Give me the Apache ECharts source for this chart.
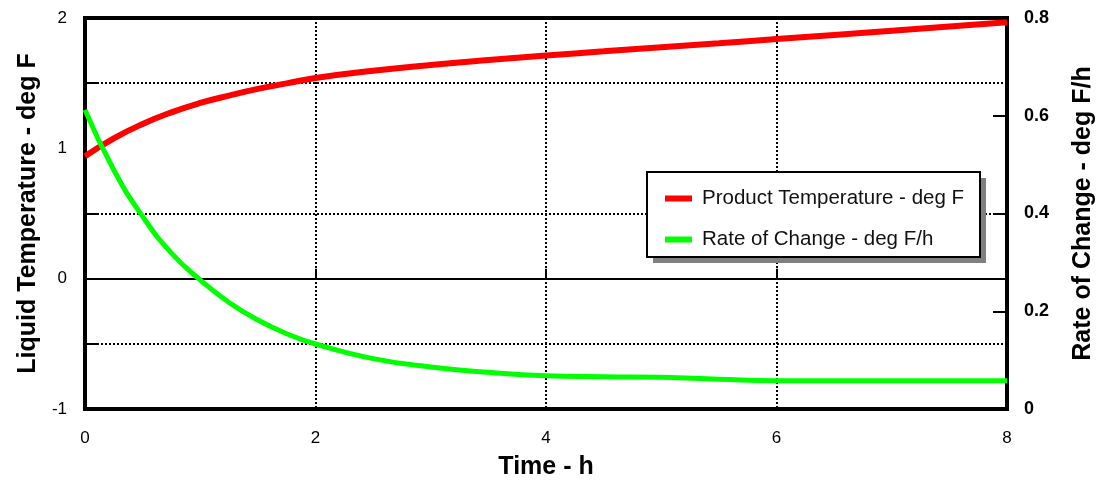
<!DOCTYPE html>
<html>
<head>
<meta charset="utf-8">
<script src="https://cdn.jsdelivr.net/npm/echarts@6/dist/echarts.min.js"></script>
<style>
html,body{margin:0;padding:0;background:#fff;}
#c{width:1103px;height:480px;}
</style>
</head>
<body>
<div id="c"></div>
<script>
// Time (h)
const timeH = [0, 0.25, 0.5, 0.75, 1, 1.25, 1.5, 1.75, 2, 2.5, 3, 3.5, 4, 4.5, 5, 5.5, 6, 7, 8];
// Product Temperature - deg F (left axis)
const productTemp = [0.94, 1.077, 1.187, 1.276, 1.348, 1.405, 1.456, 1.498, 1.54, 1.595, 1.64, 1.678, 1.712, 1.744, 1.776, 1.806, 1.838, 1.903, 1.968];
// Rate of Change - deg F/h (right axis)
const rateOfChange = [0.612, 0.489, 0.394, 0.319, 0.264, 0.218, 0.182, 0.154, 0.133, 0.103, 0.086, 0.075, 0.068, 0.066, 0.065, 0.061, 0.058, 0.058, 0.058];

const xTicks = [0, 2, 4, 6, 8];
const leftTicks = [-1, 0, 1, 2];
const rightTicks = [0, 0.2, 0.4, 0.6, 0.8];

const seriesNames = ['Product Temperature - deg F', 'Rate of Change - deg F/h'];

const FONT = 'Liberation Sans, Arial, sans-serif';
const dotted = { color: '#000', width: 2, type: [2, 2] };

const chart = echarts.init(document.getElementById('c'), null, { renderer: 'canvas' });
chart.setOption({
  animation: false,
  backgroundColor: '#fff',
  textStyle: { fontFamily: FONT },
  grid: {
    left: 85, right: 96, top: 18, bottom: 71,
    containLabel: false, outerBoundsMode: 'none',
    show: true, borderColor: '#000', borderWidth: 4, backgroundColor: 'transparent'
  },
  graphic: [
    { type: 'rect', z: 3, silent: true, shape: { x: 653, y: 178, width: 333, height: 85 },
      style: { fill: '#808080' } },
    { type: 'rect', z: 3, silent: true, shape: { x: 647, y: 172, width: 333, height: 85 },
      style: { fill: '#fff', stroke: '#000', lineWidth: 2 } }
  ],
  legend: {
    orient: 'vertical',
    left: 665, top: 188,
    data: seriesNames,
    backgroundColor: 'transparent',
    borderWidth: 0,
    padding: 0,
    itemGap: 20,
    itemWidth: 27, itemHeight: 6,
    icon: 'rect',
    z: 10,
    textStyle: { fontFamily: FONT, fontSize: 20.5, color: '#111', padding: [0, 0, 0, 5], lineHeight: 20 }
  },
  xAxis: {
    type: 'value', min: xTicks[0], max: xTicks[xTicks.length - 1], interval: 2,
    name: 'Time - h', nameLocation: 'middle', nameGap: 46,
    nameTextStyle: { fontFamily: FONT, fontSize: 25, fontWeight: 'bold', color: '#000' },
    axisLine: { show: false },
    axisTick: { show: true, inside: true, length: 10, lineStyle: { color: '#000', width: 2 } },
    axisLabel: { fontFamily: FONT, fontSize: 17, color: '#000', margin: 21,
      formatter: v => xTicks.includes(v) ? String(v) : '' },
    splitLine: { show: true, lineStyle: dotted }
  },
  yAxis: [
    {
      type: 'value', min: leftTicks[0], max: leftTicks[leftTicks.length - 1], interval: 1,
      name: 'Liquid Temperature - deg F', nameLocation: 'middle', nameGap: 44,
      nameTextStyle: { fontFamily: FONT, fontSize: 25, fontWeight: 'bold', color: '#000' },
      axisLine: { show: false },
      axisTick: { show: false, inside: true, length: 14 },
      minorTick: { show: true, splitNumber: 2, length: 14, lineStyle: { color: '#000', width: 2 } },
      minorSplitLine: { show: true, lineStyle: dotted },
      axisLabel: { fontFamily: FONT, fontSize: 17, color: '#000', margin: 18 },
      splitLine: { show: false }
    },
    {
      type: 'value', min: rightTicks[0], max: rightTicks[rightTicks.length - 1], interval: 0.2,
      position: 'right',
      name: 'Rate of Change - deg F/h', nameLocation: 'middle', nameGap: 64,
      nameRotate: 90,
      nameTextStyle: { fontFamily: FONT, fontSize: 25, fontWeight: 'bold', color: '#000' },
      axisLine: { show: false },
      axisTick: { show: true, inside: true, length: 14, lineStyle: { color: '#000', width: 2 } },
      axisLabel: { fontFamily: FONT, fontSize: 18, fontWeight: 'bold', color: '#000', margin: 17,
        formatter: v => String(+v.toFixed(1)) },
      splitLine: { show: false }
    }
  ],
  series: [
    {
      name: seriesNames[0], type: 'line', yAxisIndex: 0, smooth: true,
      data: timeH.map((t, i) => [t, productTemp[i]]),
      showSymbol: false, symbol: 'none',
      itemStyle: { color: '#ff0000' },
      lineStyle: { color: '#ff0000', width: 6 },
      z: 2,
      markLine: {
        silent: true, symbol: 'none', label: { show: false },
        lineStyle: { color: '#000', width: 2, type: 'solid' },
        data: [{ yAxis: 0 }], z: 1
      }
    },
    {
      name: seriesNames[1], type: 'line', yAxisIndex: 1, smooth: true,
      data: timeH.map((t, i) => [t, rateOfChange[i]]),
      showSymbol: false, symbol: 'none',
      itemStyle: { color: '#00ff00' },
      lineStyle: { color: '#00ff00', width: 5 },
      z: 2
    }
  ]
});
</script>
</body>
</html>
